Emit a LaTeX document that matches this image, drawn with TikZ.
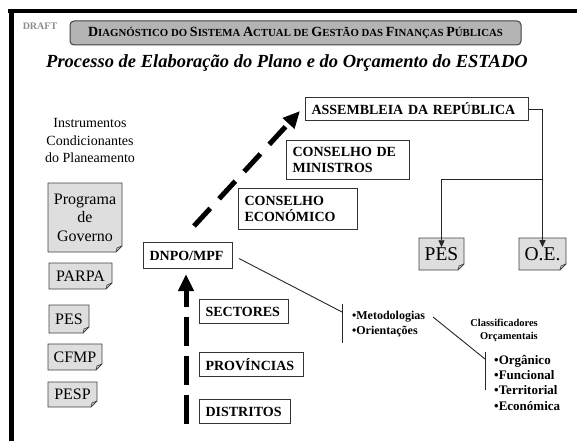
\documentclass[tikz,border=0pt]{standalone}
\usepackage{fontspec}
\setmainfont{Liberation Serif}
\usetikzlibrary{arrows.meta}
\newcommand\fs[2]{\fontsize{#1}{#2}\selectfont}
\newcommand\bigC[1]{{\fs{14}{14}#1}}
\definecolor{docfill}{HTML}{DEDEDE}
\definecolor{titlefill}{HTML}{B4B4B4}
\definecolor{edge}{HTML}{404040}
\begin{document}
\begin{tikzpicture}[x=1pt,y=-1pt,
  bbox/.style={draw=black!80, line width=1.1pt, fill=white, anchor=north west,
    font=\bfseries\fs{14}{15.5}, align=left, inner xsep=6pt, inner ysep=0pt},
  doctext/.style={draw=none, font=\fs{16}{18.5}, align=center, inner sep=0pt},
  docline/.style={draw=edge, line width=0.9pt, fill=docfill},
  conn/.style={draw=black!85, line width=0.9pt},
  connarrow/.style={conn, -{Triangle[length=7pt,width=6pt]}},
  bigdash/.style={line width=5pt, -{Triangle[length=17pt,width=15pt]}},
  listtext/.style={font=\bfseries\fs{12}{15}, align=left, inner sep=0pt, anchor=north west}
]
\useasboundingbox (0,0) rectangle (577,441);
% frame
\fill[black] (8,9.5) rectangle (577,13.5);
\fill[black] (8.5,9.5) rectangle (13.5,441);
% header
\node[font=\bfseries\fs{10}{10}, text=black!45, inner sep=0pt] (draft) at (40,26) {DRAFT};
\node[draw=edge, line width=1pt, fill=titlefill, rounded corners=4pt,
  minimum width=451pt, minimum height=24pt, inner sep=0pt,
  font=\bfseries\fs{10.8}{10.8}] (hdr) at (295.5,33)
  {\bigC{D}IAGNÓSTICO DO \bigC{S}ISTEMA \bigC{A}CTUAL DE \bigC{G}ESTÃO DAS \bigC{F}INANÇAS \bigC{P}ÚBLICAS};
\node[font=\bfseries\itshape\fs{18.5}{18.5}, inner sep=0pt] (title) at (287,63)
  {Processo de Elaboração do Plano e do Orçamento do ESTADO};
% left column
\node[font=\fs{14}{17.5}, align=center, inner sep=0pt] (instr) at (90,140.5)
  {Instrumentos\\Condicionantes\\do Planeamento};
% documents
\foreach \n/\x/\y/\w/\h/\t/\f in {
  prog/85/217.5/74/69/{Programa\\de\\Governo}/16,
  parpa/80.5/276/63/26/PARPA/16,
  pesa/69/319/40/28/PES/16,
  cfmp/75/357/54/26/CFMP/16,
  pesp/72.5/394.5/49/25/PESP/16,
  pesb/441.5/254/45/32/PES/19.5,
  oe/542.5/254/47/32/O.E./19.5}{
  \path[docline] (\x-\w/2,\y-\h/2) -- (\x+\w/2,\y-\h/2) -- (\x+\w/2,\y+\h/2-6)
    -- (\x+\w/2-6,\y+\h/2) -- (\x-\w/2,\y+\h/2) -- cycle;
  \draw[edge, line width=0.7pt] (\x+\w/2,\y+\h/2-6) -- (\x+\w/2-5,\y+\h/2-4) -- (\x+\w/2-6,\y+\h/2);
  \node[doctext, font=\fs{\f}{18.5}] (\n) at (\x,\y) {\t};
}
% bold boxes
\node[bbox, text width=211pt, minimum height=23pt] (assem) at (305,97) {ASSEMBLEIA DA REPÚBLICA};
\node[bbox, text width=111pt, minimum height=39pt] (cmin) at (286,140) {CONSELHO DE\\MINISTROS};
\node[bbox, text width=107pt, minimum height=41pt] (ceco) at (238,188) {CONSELHO\\ECONÓMICO};
\node[bbox, text width=77pt, minimum height=26pt] (dnpo) at (143,242) {DNPO/MPF};
\node[bbox, text width=77pt, minimum height=24pt] (sect) at (199,299) {SECTORES};
\node[bbox, text width=92pt, minimum height=24pt] (prov) at (199,352) {PROVÍNCIAS};
\node[bbox, text width=79pt, minimum height=24pt] (dist) at (199,399) {DISTRITOS};
% lists
\node[listtext] (met) at (352,311) {•Metodologias\\•Orientações};
\node[font=\bfseries\fs{10.5}{13}, align=right, inner sep=0pt, anchor=north east] (clas) at (538,319)
  {Classificadores\\Orçamentais};
\node[listtext, font=\bfseries\fs{13}{15.3}] (org) at (494,355)
  {•Orgânico\\•Funcional\\•Territorial\\•Económica};
% dashed arrows
\coordinate (dstart) at (194,226);
\coordinate (dend) at (300,111);
\draw[bigdash, dash pattern=on 24pt off 13pt] (dstart) -- (dend);
\coordinate (vstart) at (186,424);
\draw[bigdash, dash pattern=on 29pt off 10pt, shorten >=5pt] (vstart) -- (vstart |- dnpo.south);
% thin bracket lines
\coordinate (b1) at (342,312);
\coordinate (b1t) at (342,304);
\coordinate (b1b) at (342,343);
\draw[conn] ([xshift=6pt,yshift=-3pt]dnpo.east) -- (b1);
\draw[conn] (b1t) -- (b1b);
\coordinate (m1) at (433,317);
\coordinate (b2) at (485,359);
\coordinate (b2t) at (485,352);
\coordinate (b2b) at (485,390);
\draw[conn] (m1) -- (b2);
\draw[conn] (b2t) -- (b2b);
% assembly to outputs
\coordinate (jn) at (542.5,179);
\draw[connarrow] (assem.east) -| (oe.north);
\draw[connarrow] (jn) -| (pesb.north);
\end{tikzpicture}
\end{document}
